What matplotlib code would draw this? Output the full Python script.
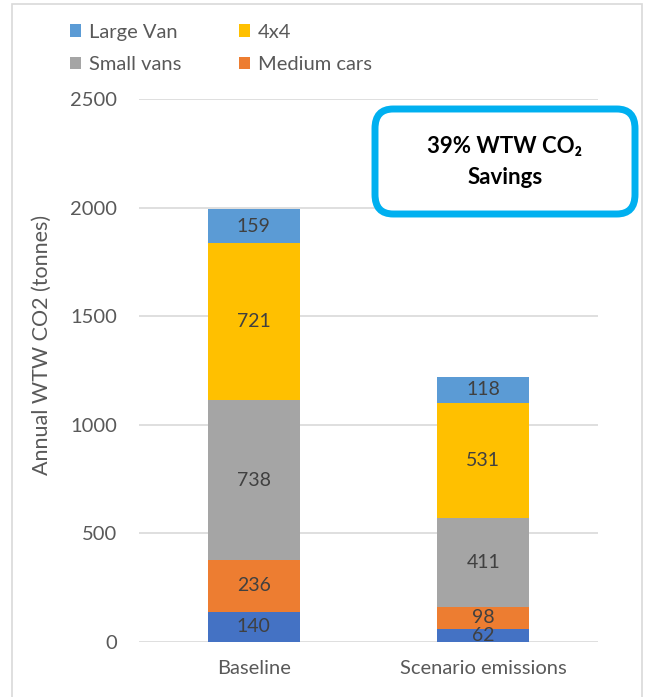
import matplotlib
matplotlib.use("Agg")
import matplotlib.pyplot as plt
from matplotlib.patches import Rectangle, FancyBboxPatch, Patch
import numpy as np

plt.rcParams['font.family'] = ['Lato', 'DejaVu Sans']

categories = ["Baseline", "Scenario emissions"]
series_names = ["Small cars", "Medium cars", "Small vans", "4x4", "Large Van"]
small_cars = [140, 62]
medium_cars = [236, 98]
small_vans = [738, 411]
four_by_four = [721, 531]
large_van = [159, 118]
series_values = [small_cars, medium_cars, small_vans, four_by_four, large_van]
series_colors = ["#4472C4", "#ED7D31", "#A5A5A5", "#FFC000", "#5B9BD5"]
y_ticks = [0, 500, 1000, 1500, 2000, 2500]
y_label = "Annual WTW CO2 (tonnes)"
callout = "39% WTW CO\u2082\nSavings"

W, H = 648, 697
fig = plt.figure(figsize=(W / 100, H / 100), dpi=100)

def fx(px):
    return px / W

def fy(py):
    return 1 - py / H

ax = fig.add_axes([fx(139), fy(642), fx(598) - fx(139), fy(99) - fy(642)])

x = np.arange(len(categories))
bottom = np.zeros(len(categories))
label_color = "#404040"
for name, vals, col in zip(series_names, series_values, series_colors):
    vals = np.array(vals, dtype=float)
    ax.bar(x, vals, width=0.4, bottom=bottom, color=col, zorder=3)
    for xi, b, v in zip(x, bottom, vals):
        ax.text(xi, b + v / 2, f"{int(v)}", ha="center", va="center",
                fontsize=14, color=label_color, zorder=4)
    bottom += vals

ax.set_xlim(-0.5, 1.5)
ax.set_ylim(0, 2500)
ax.set_yticks(y_ticks)
ax.set_yticklabels([str(t) for t in y_ticks])
ax.set_xticks(x)
ax.set_xticklabels(categories)
ax.tick_params(axis="both", length=0, labelsize=14.5, labelcolor="#595959")
ax.tick_params(axis="y", pad=15.5)
ax.tick_params(axis="x", pad=13)
ax.grid(axis="y", color="#D9D9D9", linewidth=1.2, zorder=0)
ax.set_axisbelow(True)
for s in ax.spines.values():
    s.set_visible(False)

fig.text(fx(42), fy(345), y_label, rotation=90, ha="center", va="center",
         fontsize=15.5, color="#595959")

# Legend: two columns, Large Van / 4x4 on top row, Small vans / Medium cars below
order = ["Large Van", "Small vans", "4x4", "Medium cars"]
leg_handles = [Patch(facecolor=series_colors[series_names.index(n)]) for n in order]
fig.legend(leg_handles, order, loc="upper left",
           bbox_to_anchor=(fx(52), fy(5.5)), ncol=2, frameon=False,
           fontsize=14.5, labelcolor="#595959", handlelength=0.55, handleheight=0.55,
           handletextpad=0.4, columnspacing=2.85, labelspacing=0.75)

# Outer chart frame
fig.patches.append(Rectangle((fx(12), fy(720)), fx(642) - fx(12), fy(4) - fy(720),
                             transform=fig.transFigure, fill=False,
                             edgecolor="#D9D9D9", linewidth=1.2))

# Savings callout
fig.patches.append(FancyBboxPatch((fx(375), fy(214)), fx(635) - fx(375), fy(109) - fy(214),
                                  boxstyle="round,pad=0,rounding_size=0.028",
                                  transform=fig.transFigure, facecolor="white",
                                  edgecolor="#00B0F0", linewidth=5, zorder=5))
fig.text(fx(505), fy(162), callout, ha="center", va="center", fontsize=16,
         fontweight="bold", color="black", linespacing=1.6, zorder=6)

fig.savefig("out.png", dpi=100, facecolor="white")
